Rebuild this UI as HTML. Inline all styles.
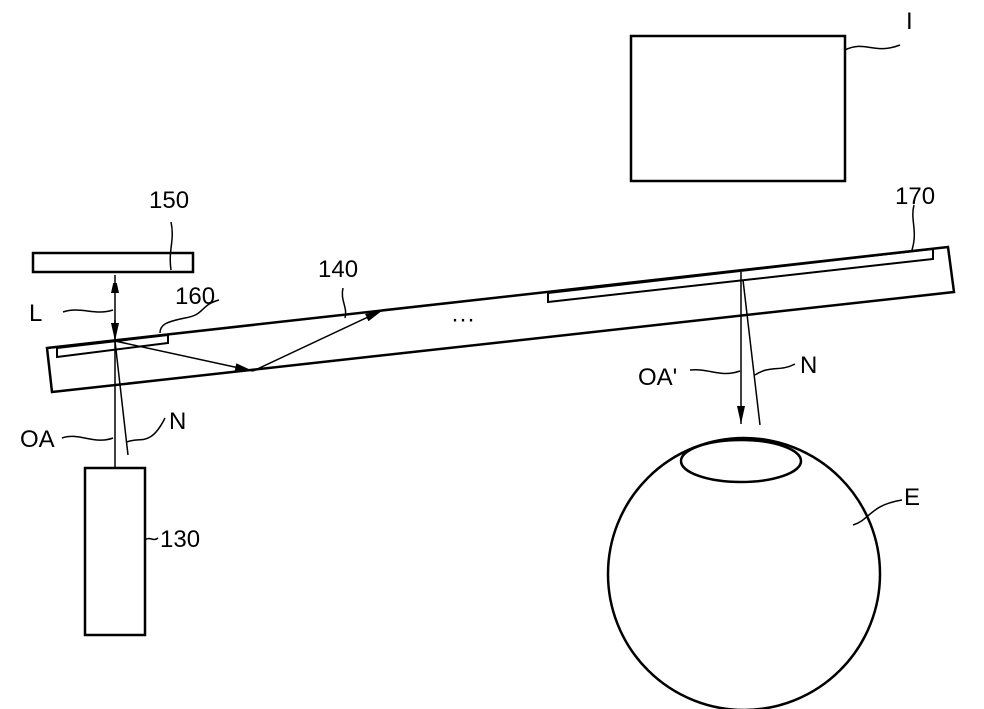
<!DOCTYPE html>
<html><head><style>html,body{margin:0;padding:0;background:#fff}svg{display:block}
text{font-family:"Liberation Sans",sans-serif;font-size:24px;fill:#000}</style></head>
<body>
<svg width="984" height="709" viewBox="0 0 984 709" xmlns="http://www.w3.org/2000/svg">
<defs>
<marker id="ah2" markerWidth="18" markerHeight="8" refX="18" refY="4" orient="auto" markerUnits="userSpaceOnUse"><path d="M0,0 L18,4 L0,8 z" fill="#000"/></marker>
<marker id="ahs" markerWidth="10" markerHeight="18" refX="18" refY="4" orient="auto-start-reverse" markerUnits="userSpaceOnUse"><path d="M0,0 L18,4 L0,8 z" fill="#000"/></marker>
<clipPath id="eye"><circle cx="744" cy="574" r="136"/></clipPath>
</defs>
<g fill="none" stroke="#000" stroke-width="2.5">
<rect x="631" y="36" width="214" height="145"/>
<rect x="33" y="253" width="160" height="19"/>
<polygon points="47,348 948,247 954,292 52,392"/>
<polygon points="57,348 168,335 168,343 57,357" stroke-width="2"/>
<polygon points="548,293 933,249 933,259 548,302" stroke-width="2"/>
<rect x="85" y="468" width="60" height="167"/>
<circle cx="744" cy="574" r="136"/>
<ellipse cx="741" cy="461" rx="60" ry="21" clip-path="url(#eye)"/>
</g>
<g fill="none" stroke="#000" stroke-width="1.5">
<line x1="115" y1="292" x2="115" y2="468"/>
<line x1="115" y1="275" x2="115" y2="292" marker-start="url(#ahs)"/>
<line x1="115" y1="320" x2="115" y2="341" marker-end="url(#ah2)"/>
<line x1="115" y1="341" x2="128" y2="455"/>
<line x1="115" y1="341" x2="253" y2="371" marker-end="url(#ah2)"/>
<line x1="253" y1="371" x2="383" y2="310" marker-end="url(#ah2)"/>
<line x1="741" y1="272" x2="741" y2="424" marker-end="url(#ah2)"/>
<line x1="743" y1="280" x2="760" y2="425"/>
<path d="M845,50 C865,40 875,55 900,45"/>
<path d="M171,270 C168,250 175,240 171,222"/>
<path d="M914,205 C910,220 918,230 912,250"/>
<path d="M343,288 C340,300 348,308 345,318"/>
<path d="M219,300 C200,305 205,315 185,318 C165,322 160,325 160,333"/>
<path d="M63,312 C80,306 95,316 113,310"/>
<path d="M62,438 C78,432 95,445 113,438"/>
<path d="M127,442 C140,436 150,448 165,418"/>
<path d="M145,540 C150,536 153,542 158,538"/>
<path d="M690,370 C710,368 720,378 740,371"/>
<path d="M755,375 C770,365 780,372 795,364"/>
<path d="M853,525 C870,520 870,505 902,500"/>
</g>
<text x="906" y="29">I</text>
<text x="149" y="208">150</text>
<text x="895" y="204">170</text>
<text x="318" y="277">140</text>
<text x="175" y="304">160</text>
<text x="29" y="321">L</text>
<text x="451" y="327">···</text>
<text x="169" y="429">N</text>
<text x="20" y="447">OA</text>
<text x="160" y="547">130</text>
<text x="638" y="385">OA'</text>
<text x="800" y="373">N</text>
<text x="904" y="505">E</text>
</svg>
</body></html>
